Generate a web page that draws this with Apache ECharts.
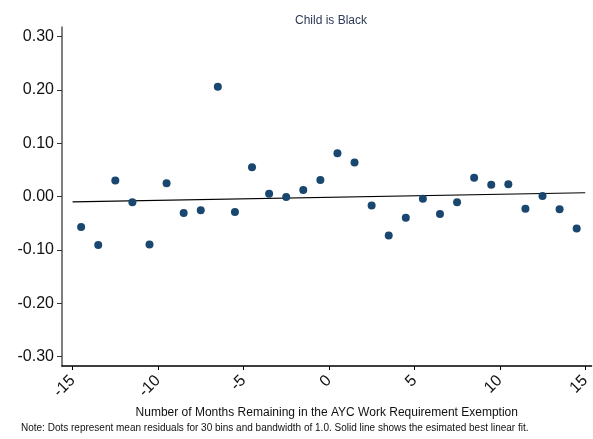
<!DOCTYPE html>
<html>
<head>
<meta charset="utf-8">
<title>Child is Black</title>
<script src="https://cdn.jsdelivr.net/npm/echarts@6/dist/echarts.min.js"></script>
<style>
  html, body { margin: 0; padding: 0; background: #fff; }
  #chart { width: 593px; height: 439px; }
</style>
</head>
<body>
<div id="chart"></div>
<script>
// Bin midpoints (months remaining) and mean residual per bin
const binMonths = [
  -14.5, -13.5, -12.5, -11.5, -10.5, -9.5, -8.5, -7.5, -6.5, -5.5,
  -4.5, -3.5, -2.5, -1.5, -0.5, 0.5, 1.5, 2.5, 3.5, 4.5,
  5.5, 6.5, 7.5, 8.5, 9.5, 10.5, 11.5, 12.5, 13.5, 14.5
];
const meanResiduals = [
  -0.057, -0.091, 0.030, -0.011, -0.090, 0.025, -0.031, -0.026, 0.206, -0.029,
  0.055, 0.005, -0.001, 0.012, 0.031, 0.081, 0.064, -0.017, -0.073, -0.040,
  -0.004, -0.033, -0.011, 0.035, 0.022, 0.023, -0.023, 0.001, -0.024, -0.060
];

// Endpoints of the estimated linear fit
const fitMonths = [-15, 15];
const fitValues = [-0.010, 0.007];

// Tick positions
const xTicks = [-15, -10, -5, 0, 5, 10, 15];
const yTicks = [-0.3, -0.2, -0.1, 0, 0.1, 0.2, 0.3];

const FONT = '"Liberation Sans", Arial, Helvetica, sans-serif';

const chart = echarts.init(document.getElementById('chart'), null, { renderer: 'canvas' });

chart.setOption({
  animation: false,
  backgroundColor: '#ffffff',
  title: {
    text: 'Child is Black',
    left: 326,
    top: 10,
    textAlign: 'center',
    textStyle: { fontFamily: FONT, fontSize: 12, fontWeight: 'normal', color: '#2b3a55' }
  },
  grid: { left: 62, right: 0, top: 27, bottom: 73, containLabel: false },
  xAxis: {
    type: 'value',
    min: -15.62,
    max: 15.37,
    name: 'Number of Months Remaining in the AYC Work Requirement Exemption',
    nameLocation: 'middle',
    nameGap: 40,
    nameTextStyle: { fontFamily: FONT, fontSize: 12, color: '#111' },
    axisLine: { show: true, onZero: false, lineStyle: { color: '#000', width: 1.5 } },
    axisTick: { show: true, length: 4, customValues: xTicks, lineStyle: { color: '#000', width: 1 } },
    axisLabel: {
      customValues: xTicks,
      rotate: 45,
      margin: 12,
      fontFamily: FONT,
      fontSize: 16,
      color: '#111',
      formatter: v => String(v)
    },
    splitLine: { show: false }
  },
  yAxis: {
    type: 'value',
    min: -0.318,
    max: 0.318,
    axisLine: { show: true, onZero: false, lineStyle: { color: '#555', width: 1.5 } },
    axisTick: { show: true, length: 5, customValues: yTicks, lineStyle: { color: '#333', width: 1 } },
    axisLabel: {
      customValues: yTicks,
      margin: 8,
      fontFamily: FONT,
      fontSize: 16,
      color: '#111',
      formatter: v => v.toFixed(2)
    },
    splitLine: { show: false }
  },
  graphic: [{
    type: 'text',
    left: 21,
    top: 423,
    style: {
      text: 'Note: Dots represent mean residuals for 30 bins and bandwidth of 1.0. Solid line shows the esimated best linear fit.',
      fontFamily: FONT,
      fontSize: 10,
      fill: '#111'
    }
  }],
  series: [
    {
      name: 'Linear fit',
      type: 'line',
      data: fitMonths.map((m, i) => [m, fitValues[i]]),
      symbol: 'none',
      lineStyle: { color: '#000', width: 1.2 },
      z: 2
    },
    {
      name: 'Mean residual',
      type: 'scatter',
      data: binMonths.map((m, i) => [m, meanResiduals[i]]),
      symbol: 'circle',
      symbolSize: 8,
      itemStyle: { color: '#1a476f', opacity: 1 },
      z: 3
    }
  ]
});
</script>
</body>
</html>
